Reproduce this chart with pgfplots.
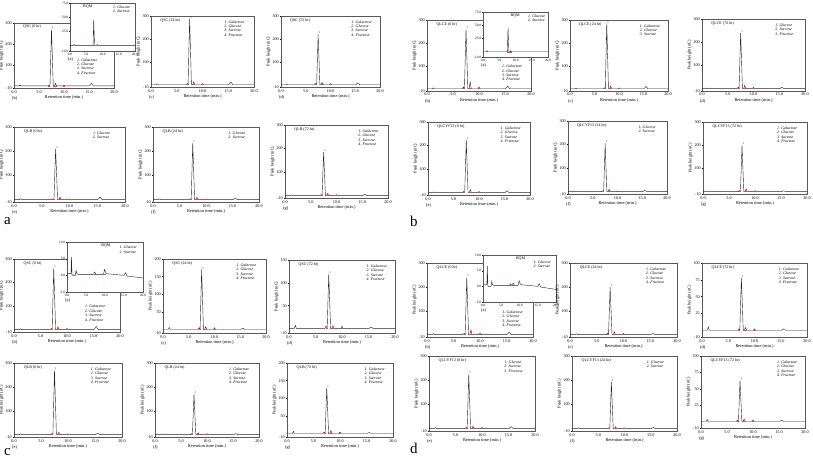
\documentclass[border=0pt]{standalone}
\usepackage{pgfplots}
\pgfplotsset{compat=1.18}
\usepackage{fontspec}
\setmainfont{Liberation Serif}
\newcommand{\tk}{\fontsize{4.2}{4.4}\selectfont}
\newcommand{\lbl}{\fontsize{4.4}{5}\selectfont}
\newcommand{\ttf}{\fontsize{4}{4.4}\selectfont}
\newcommand{\lgf}{\fontsize{3.9}{4.4}\selectfont\itshape}
\newcommand{\itk}{\fontsize{3.4}{3.6}\selectfont}
\newcommand{\pkf}{\fontsize{2.8}{3}\selectfont}
\def\LGGSF{1. Galactose\\2. Glucose\\3. Sucrose\\4. Fructose}
\def\LGS{1. Glucose\\2. Sucrose}
\def\LGaGS{1. Galactose\\2. Glucose\\3. Sucrose}
\def\LGSF{1. Glucose\\2. Sucrose\\3. Fructose}
\pgfplotsset{
 chrom/.style={
  scale only axis, anchor=south west,
  xmin=0, xmax=20, ymin=-10,
  xtick={0,5,10,15,20}, xticklabels={0.0,5.0,10.0,15.0,20.0},
  minor x tick num=4, minor y tick num=3,
  tick align=outside, tick pos=left,
  major tick length=1.2pt, minor tick length=0.6pt,
  every tick/.style={black, line width=0.3pt},
  axis line style={black!65, line width=0.5pt},
  tick label style={font=\tk},
  xticklabel style={inner sep=0.8pt},
  yticklabel style={inner sep=0.8pt},
  xlabel={Retention time (min.)}, ylabel={Peak height (nC)},
  xlabel style={font=\lbl, inner sep=0pt, yshift=-1pt},
  ylabel style={font=\lbl, inner sep=0pt, yshift=1pt},
  clip=false,
  /pgf/number format/assume math mode=true,
  axis background/.style={fill=white},
 },
 inset/.style={chrom, xlabel={}, ylabel={}, tick label style={font=\itk}, major tick length=0.9pt, minor tick length=0.5pt},
 trc/.style={black!85, line width=0.4pt, no marks},
 rmk/.style={red!75, line width=0.35pt, no marks},
}
\tikzset{
 ttl/.style={anchor=north west, font=\ttf, inner sep=0pt},
 leg/.style={anchor=north west, align=left, font=\lgf, inner sep=0pt},
 let/.style={anchor=north west, font=\lbl, xshift=-2pt, yshift=-8pt, inner sep=0pt},
 big/.style={anchor=base west, font=\fontsize{15}{15}\selectfont, inner sep=0pt},
 pk/.style={anchor=south west, font=\pkf, inner sep=0.2pt},
}
% #1 main peak, #2 peak at 8.3, #3 small peaks at 7.0 and 10.0, #4 bump at 15.5, #5 spike at 1.2
\newcommand{\trace}[5]{%
 \addplot[trc] coordinates {(0,0)(1.0,0)(1.2,#5)(1.4,0)(6.8,0)(7.0,#3)(7.2,0.5)(7.5,#1)(7.85,0.5)(8.1,0.5)(8.3,#2)(8.5,0)(9.8,0)(10.0,#3)(10.2,0)(15.1,0)(15.5,#4)(15.9,0)(20,0)};
 \addplot[rmk] coordinates {(6.9,0.5)(7.3,0.5)};
 \addplot[rmk] coordinates {(7.8,0.5)(8.6,0.5)};
 \addplot[rmk] coordinates {(9.8,0.5)(10.2,0.5)};
 \node[pk] at (axis cs:7.55,#1) {1};
}
\begin{document}
\begin{tikzpicture}
\useasboundingbox (0,0) rectangle (813pt,-459pt);
% ================= panel a =================
\begin{axis}[chrom, at={(14pt,-88pt)}, width=100pt, height=65pt, ymax=300, ytick={-10,100,200,300}]
\trace{270}{12}{5}{12}{4}
\node[ttl] at (rel axis cs:0.09,0.97) {QSC (0 hr)};
\node[leg] at (rel axis cs:0.63,0.46) {\LGGSF};
\node[let] at (rel axis cs:0,0) {(b)};
\end{axis}
\begin{axis}[inset, at={(70pt,-51pt)}, width=65pt, height=48pt, ymax=75, ytick={-10,25,50,75}, yticklabels={-10.0,25.0,50.0,75.0}]
\addplot[trc] coordinates {(0,0)(1.1,0)(1.25,2)(1.4,0)(7.1,0)(7.3,45)(7.55,0)(8.2,0)(8.35,2)(8.5,0)(20,0)};
\addplot[rmk] coordinates {(7.0,0)(8.6,0)};
\node[ttl] at (rel axis cs:0.2,0.96) {BQM};
\node[leg] at (rel axis cs:0.66,0.95) {\LGS};
\node[let, yshift=2pt] at (rel axis cs:0,0) {(a)};
\end{axis}
\begin{axis}[chrom, at={(151pt,-87pt)}, width=103pt, height=71pt, ymax=300, ytick={-10,100,200,300}]
\trace{288}{12}{5}{12}{4}
\node[ttl] at (rel axis cs:0.09,0.97) {QSC (24 hr)};
\node[leg] at (rel axis cs:0.71,0.94) {\LGGSF};
\node[let] at (rel axis cs:0,0) {(c)};
\end{axis}
\begin{axis}[chrom, at={(281pt,-87pt)}, width=99pt, height=71pt, ymax=300, ytick={-10,100,200,300}]
\trace{220}{10}{5}{8}{3}
\node[ttl] at (rel axis cs:0.09,0.97) {QSC (72 hr)};
\node[leg] at (rel axis cs:0.71,0.94) {\LGGSF};
\node[let] at (rel axis cs:0,0) {(d)};
\end{axis}
\begin{axis}[chrom, at={(14pt,-202pt)}, width=111pt, height=75pt, ymax=300, ytick={-10,100,200,300}]
\trace{210}{10}{3}{10}{3}
\node[ttl] at (rel axis cs:0.09,0.97) {QLB (0 hr)};
\node[leg] at (rel axis cs:0.71,0.94) {\LGS};
\node[let] at (rel axis cs:0,0) {(e)};
\end{axis}
\begin{axis}[chrom, at={(153pt,-202pt)}, width=106pt, height=75pt, ymax=300, ytick={-10,100,200,300}]
\trace{235}{10}{3}{6}{3}
\node[ttl] at (rel axis cs:0.09,0.97) {QLB (24 hr)};
\node[leg] at (rel axis cs:0.71,0.94) {\LGS};
\node[let] at (rel axis cs:0,0) {(f)};
\end{axis}
\begin{axis}[chrom, at={(285pt,-198pt)}, width=103pt, height=73pt, ymax=300, ytick={-10,100,200,300}]
\trace{185}{10}{4}{6}{3}
\node[ttl] at (rel axis cs:0.09,0.97) {QLB (72 hr)};
\node[leg] at (rel axis cs:0.71,0.94) {\LGGSF};
\node[let] at (rel axis cs:0,0) {(g)};
\end{axis}
\node[big] at (4pt,-224pt) {a};
% ================= panel b =================
\begin{axis}[chrom, at={(427pt,-91pt)}, width=104pt, height=71pt, ymax=300, ytick={-10,100,200,300}]
\trace{260}{30}{8}{12}{4}
\node[ttl] at (rel axis cs:0.09,0.97) {QLCE (0 hr)};
\node[leg] at (rel axis cs:0.72,0.37) {\LGGSF};
\node[let] at (rel axis cs:0,0) {(b)};
\end{axis}
\begin{axis}[inset, at={(483pt,-57pt)}, width=65pt, height=45pt, ymax=75, ytick={-10,25,50,75}, yticklabels={-10.0,25.0,50.0,75.0}]
\addplot[trc] coordinates {(0,0)(1.1,0)(1.25,2)(1.4,0)(7.5,0)(7.7,45)(7.95,0)(8.4,0)(8.55,2)(8.7,0)(20,0)};
\addplot[rmk] coordinates {(7.3,0)(8.8,0)};
\node[ttl] at (rel axis cs:0.42,0.96) {BQM};
\node[leg] at (rel axis cs:0.69,0.95) {\LGS};
\node[let, yshift=2pt] at (rel axis cs:0,0) {(a)};
\end{axis}
\begin{axis}[chrom, at={(570pt,-91pt)}, width=98pt, height=71pt, ymax=300, ytick={-10,100,200,300}]
\trace{285}{12}{4}{10}{3}
\node[ttl] at (rel axis cs:0.09,0.97) {QLCE (24 hr)};
\node[leg] at (rel axis cs:0.71,0.94) {\LGaGS};
\node[let] at (rel axis cs:0,0) {(c)};
\end{axis}
\begin{axis}[chrom, at={(702pt,-91pt)}, width=103pt, height=72pt, ymax=300, ytick={-10,100,200,300}]
\trace{240}{15}{6}{6}{3}
\node[ttl] at (rel axis cs:0.09,0.97) {QLCE (72 hr)};
\node[leg] at (rel axis cs:0.71,0.94) {\LGSF};
\node[let] at (rel axis cs:0,0) {(d)};
\end{axis}
\begin{axis}[chrom, at={(428pt,-195pt)}, width=102pt, height=73pt, ymax=300, ytick={-10,100,200,300}]
\trace{225}{12}{5}{8}{3}
\node[ttl] at (rel axis cs:0.09,0.97) {QLCYF13 (0 hr)};
\node[leg] at (rel axis cs:0.71,0.94) {\LGGSF};
\node[let] at (rel axis cs:0,0) {(e)};
\end{axis}
\begin{axis}[chrom, at={(568pt,-194pt)}, width=99pt, height=73pt, ymax=300, ytick={-10,100,200,300}]
\trace{205}{10}{3}{6}{3}
\node[ttl] at (rel axis cs:0.09,0.97) {QLCYF13 (24 hr)};
\node[leg] at (rel axis cs:0.71,0.94) {\LGS};
\node[let] at (rel axis cs:0,0) {(f)};
\end{axis}
\begin{axis}[chrom, at={(703pt,-194pt)}, width=104pt, height=72pt, ymax=300, ytick={-10,100,200,300}]
\trace{200}{12}{5}{4}{3}
\node[ttl] at (rel axis cs:0.09,0.97) {QLCYF13 (72 hr)};
\node[leg] at (rel axis cs:0.71,0.94) {\LGGSF};
\node[let] at (rel axis cs:0,0) {(g)};
\end{axis}
\node[big] at (410pt,-226pt) {b};
% ================= panel c =================
\begin{axis}[chrom, at={(14pt,-332pt)}, width=106pt, height=73pt, ymax=300, ytick={-10,100,200,300}]
\trace{262}{12}{5}{14}{4}
\node[ttl] at (rel axis cs:0.09,0.97) {QSC (0 hr)};
\node[leg] at (rel axis cs:0.67,0.37) {\LGGSF};
\node[let] at (rel axis cs:0,0) {(b)};
\end{axis}
\begin{axis}[inset, at={(67pt,-292pt)}, width=76pt, height=50pt, ymin=-5, ymax=10, ytick={-5,0,5,10}, yticklabels={-5.0,0.0,5.0,10.0}, minor y tick num=4]
\addplot[trc] coordinates {(0,0.5)(1.05,0.5)(1.2,5.5)(1.3,0.3)(1.5,0)(2.2,0)(2.4,1.5)(2.6,0.5)(3,0.3)(7.0,0.3)(7.3,1.0)(7.6,0.3)(9.6,0.3)(9.9,1.8)(10.2,0.8)(10.5,0.5)(15,0)(15.4,0.8)(15.8,-0.2)(20,-0.8)};
\addplot[rmk] coordinates {(7.0,0.3)(7.6,0.3)};
\addplot[rmk] coordinates {(9.6,0.3)(10.2,0.3)};
\node[ttl] at (rel axis cs:0.45,0.96) {BQM};
\node[leg] at (rel axis cs:0.69,0.92) {\LGS};
\node[let, yshift=2pt] at (rel axis cs:0,0) {(a)};
\end{axis}
\begin{axis}[chrom, at={(163pt,-333pt)}, width=103pt, height=74pt, ymax=200, ytick={-10,50,100,150,200}]
\trace{170}{8}{5}{4}{6}
\node[ttl] at (rel axis cs:0.09,0.97) {QSC (24 hr)};
\node[leg] at (rel axis cs:0.71,0.94) {\LGGSF};
\node[let] at (rel axis cs:0,0) {(c)};
\end{axis}
\begin{axis}[chrom, at={(289pt,-333pt)}, width=106pt, height=73pt, ymax=150, ytick={-10,50,100,150}]
\trace{120}{6}{5}{3}{7}
\node[ttl] at (rel axis cs:0.09,0.97) {QSC (72 hr)};
\node[leg] at (rel axis cs:0.73,0.94) {\LGGSF};
\node[let] at (rel axis cs:0,0) {(d)};
\end{axis}
\begin{axis}[chrom, at={(14pt,-437pt)}, width=108pt, height=74pt, ymax=300, ytick={-10,100,200,300}]
\trace{270}{10}{4}{6}{3}
\node[ttl] at (rel axis cs:0.09,0.97) {QLB (0 hr)};
\node[leg] at (rel axis cs:0.71,0.94) {\LGGSF};
\node[let] at (rel axis cs:0,0) {(e)};
\end{axis}
\begin{axis}[chrom, at={(155pt,-437pt)}, width=104pt, height=74pt, ymax=300, ytick={-10,100,200,300}]
\trace{170}{8}{4}{4}{3}
\node[ttl] at (rel axis cs:0.09,0.97) {QLB (24 hr)};
\node[leg] at (rel axis cs:0.71,0.94) {\LGGSF};
\node[let] at (rel axis cs:0,0) {(f)};
\end{axis}
\begin{axis}[chrom, at={(287pt,-437pt)}, width=106pt, height=74pt, ymax=200, ytick={-10,50,100,150,200}]
\trace{130}{8}{4}{3}{6}
\node[ttl] at (rel axis cs:0.09,0.97) {QLB (72 hr)};
\node[leg] at (rel axis cs:0.73,0.94) {\LGGSF};
\node[let] at (rel axis cs:0,0) {(g)};
\end{axis}
\node[big] at (4pt,-455pt) {c};
% ================= panel d =================
\begin{axis}[chrom, at={(427pt,-337pt)}, width=106pt, height=74pt, ymax=300, ytick={-10,100,200,300}]
\trace{240}{20}{6}{10}{4}
\node[ttl] at (rel axis cs:0.09,0.97) {QLCE (0 hr)};
\node[leg] at (rel axis cs:0.71,0.36) {\LGGSF};
\node[let] at (rel axis cs:0,0) {(b)};
\end{axis}
\begin{axis}[inset, at={(483pt,-302pt)}, width=73pt, height=47pt, ymin=-5, ymax=10, ytick={-5,0,5,10}, yticklabels={-5.0,0.0,5.0,10.0}, minor y tick num=4]
\addplot[trc] coordinates {(0,0.5)(1.05,0.5)(1.2,6.5)(1.3,0.3)(1.5,0)(2.2,0)(2.4,1.6)(2.6,0.5)(3,0.3)(7.2,0.3)(7.5,0.8)(7.8,0.3)(8.3,1.0)(8.6,0.3)(9.6,0.3)(9.9,1.8)(10.2,0.8)(10.5,0.5)(15,0)(15.4,0.8)(15.8,-0.2)(20,-1)};
\addplot[rmk] coordinates {(7.2,0.3)(8.6,0.3)};
\node[ttl] at (rel axis cs:0.45,0.96) {BQM};
\node[leg] at (rel axis cs:0.69,0.88) {\LGS};
\node[let, yshift=2pt] at (rel axis cs:0,0) {(a)};
\end{axis}
\begin{axis}[chrom, at={(570pt,-337pt)}, width=107pt, height=74pt, ymax=300, ytick={-10,100,200,300}]
\trace{200}{12}{5}{5}{3}
\node[ttl] at (rel axis cs:0.09,0.97) {QLCE (24 hr)};
\node[leg] at (rel axis cs:0.71,0.94) {\LGGSF};
\node[let] at (rel axis cs:0,0) {(c)};
\end{axis}
\begin{axis}[chrom, at={(702pt,-337pt)}, width=105pt, height=74pt, ymax=100, ytick={-10,25,50,75,100}]
\trace{78}{4}{2}{2}{5}
\node[ttl] at (rel axis cs:0.09,0.97) {QLCE (72 hr)};
\node[leg] at (rel axis cs:0.73,0.94) {\LGGSF};
\node[let] at (rel axis cs:0,0) {(d)};
\end{axis}
\begin{axis}[chrom, at={(429pt,-431pt)}, width=106pt, height=75pt, ymax=300, ytick={-10,100,200,300}]
\trace{225}{10}{5}{8}{4}
\node[ttl] at (rel axis cs:0.09,0.97) {QLCYF13 (0 hr)};
\node[leg] at (rel axis cs:0.71,0.94) {\LGSF};
\node[let] at (rel axis cs:0,0) {(e)};
\end{axis}
\begin{axis}[chrom, at={(572pt,-431pt)}, width=105pt, height=75pt, ymax=300, ytick={-10,100,200,300}]
\trace{193}{8}{3}{5}{3}
\node[ttl] at (rel axis cs:0.09,0.97) {QLCYF13 (24 hr)};
\node[leg] at (rel axis cs:0.71,0.94) {\LGS};
\node[let] at (rel axis cs:0,0) {(f)};
\end{axis}
\begin{axis}[chrom, at={(701pt,-428pt)}, width=104pt, height=72pt, ymax=100, ytick={-10,25,50,75,100}]
\trace{63}{4}{2}{2}{3}
\node[ttl] at (rel axis cs:0.09,0.97) {QLCYF13 (72 hr)};
\node[leg] at (rel axis cs:0.73,0.94) {\LGGSF};
\node[let] at (rel axis cs:0,0) {(g)};
\end{axis}
\node[big] at (410pt,-453pt) {d};
\end{tikzpicture}
\end{document}
